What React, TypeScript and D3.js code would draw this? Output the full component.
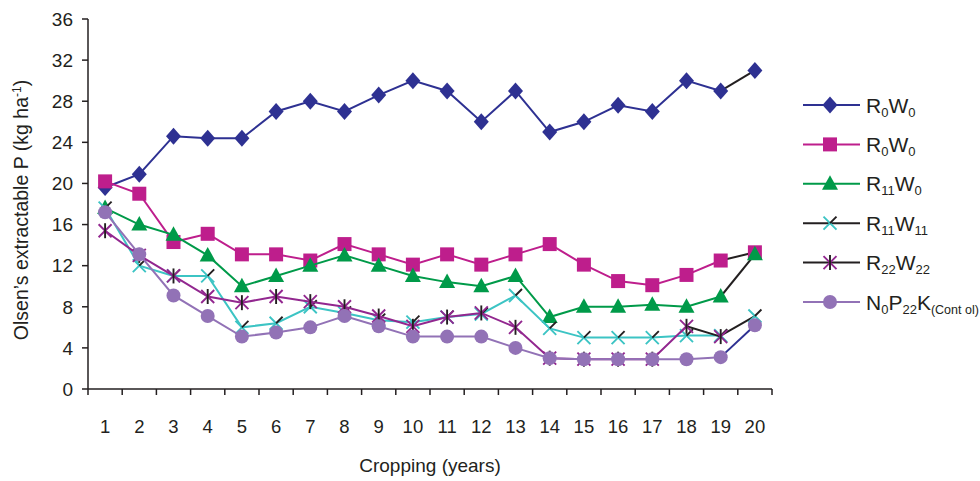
import React from "react";
import { scaleBand, scaleLinear, line, range } from "d3";

const years = range(1, 21).map(String);
const yTicks = [0, 4, 8, 12, 16, 20, 24, 28, 32, 36];

const r0w0a = [19.6, 20.9, 24.6, 24.4, 24.4, 27.0, 28.0, 27.0, 28.6, 30.0, 29.0, 26.0, 29.0, 25.0, 26.0, 27.6, 27.0, 30.0, 29.0, 31.0];
const r0w0b = [20.2, 19.0, 14.3, 15.1, 13.1, 13.1, 12.5, 14.1, 13.1, 12.1, 13.1, 12.1, 13.1, 14.1, 12.1, 10.5, 10.1, 11.1, 12.5, 13.3];
const r11w0 = [17.6, 16.0, 15.0, 13.0, 10.0, 11.0, 12.0, 13.0, 12.0, 11.0, 10.4, 10.0, 11.0, 7.0, 8.0, 8.0, 8.2, 8.0, 9.0, 13.1];
const r11w11 = [17.6, 12.0, 11.0, 11.0, 6.0, 6.4, 8.0, 7.4, 6.7, 6.5, 7.0, 7.3, 9.1, 5.9, 5.0, 5.0, 5.0, 5.2, 5.2, 7.1];
const r22w22 = [15.4, 13.0, 11.0, 9.0, 8.4, 9.0, 8.5, 8.0, 7.1, 6.1, 7.0, 7.4, 6.0, 3.0, 2.9, 2.9, 2.9, 6.1, 5.1, null];
const n0p22k = [17.2, 13.1, 9.1, 7.1, 5.1, 5.5, 6.0, 7.1, 6.1, 5.1, 5.1, 5.1, 4.0, 3.0, 2.9, 2.9, 2.9, 2.9, 3.1, 6.2];

const NAVY = "#2E3192";
const PINK = "#BE1E8C";
const GREEN = "#009A49";
const CYAN = "#3CC4C4";
const PURPLE = "#92278F";
const LAVENDER = "#9272B6";
const INK = "#231F20";

type Series = {
  values: (number | null)[];
  color: string;
  legendColor: string;
  marker: string;
  tailFrom: number; // index where the last segment(s) change colour
  tailColor: string;
  label: [string, string, string, string];
  extra?: string;
};

const series: Series[] = [
  { values: r0w0a, color: NAVY, legendColor: NAVY, marker: "diamond", tailFrom: 18, tailColor: INK, label: ["R", "0", "W", "0"] },
  { values: r0w0b, color: PINK, legendColor: PINK, marker: "square", tailFrom: 18, tailColor: INK, label: ["R", "0", "W", "0"] },
  { values: r11w0, color: GREEN, legendColor: GREEN, marker: "triangle", tailFrom: 18, tailColor: INK, label: ["R", "11", "W", "0"] },
  { values: r11w11, color: CYAN, legendColor: INK, marker: "x", tailFrom: 18, tailColor: INK, label: ["R", "11", "W", "11"] },
  { values: r22w22, color: PURPLE, legendColor: INK, marker: "star", tailFrom: 17, tailColor: INK, label: ["R", "22", "W", "22"] },
  { values: n0p22k, color: LAVENDER, legendColor: LAVENDER, marker: "circle", tailFrom: 18, tailColor: NAVY, label: ["N", "0", "P", "22"], extra: "K" },
];

const Marker = ({ type, x, y, color }: { type: string; x: number; y: number; color: string }) => {
  const s = 6.5;
  if (type === "diamond")
    return <path d={`M${x},${y - 8.5}L${x + 7.5},${y}L${x},${y + 8.5}L${x - 7.5},${y}Z`} fill={color} />;
  if (type === "square") return <rect x={x - 7} y={y - 7} width={14} height={14} fill={color} />;
  if (type === "triangle")
    return <path d={`M${x},${y - 8.5}L${x + 8},${y + 6}L${x - 8},${y + 6}Z`} fill={color} />;
  if (type === "circle") return <circle cx={x} cy={y} r={7} fill={color} />;
  if (type === "x")
    return (
      <g strokeWidth={1.9}>
        <path d={`M${x - s},${y - s}L${x + s},${y + s}M${x - s},${y + s}L${x},${y}`} stroke={color} />
        <path d={`M${x},${y}L${x + s},${y - s}`} stroke={INK} />
      </g>
    );
  if (type === "star")
    return (
      <g strokeWidth={1.9}>
        <path d={`M${x - s},${y - s}L${x + s},${y + s}M${x - s},${y + s}L${x + s},${y - s}`} stroke={color} />
        <path d={`M${x},${y - s - 1}L${x},${y + s + 1}`} stroke={INK} />
      </g>
    );
  return null;
};

const App = () => {
  const width = 980;
  const height = 481;
  const x = scaleBand().domain(years).range([88, 772]).padding(0);
  const y = scaleLinear().domain([0, 36]).range([389, 19]);
  const cx = (i: number) => (x(years[i]) as number) + x.bandwidth() / 2;

  const path = line<number | null>()
    .defined((d) => d != null)
    .x((_, i) => cx(i))
    .y((d) => y(d as number));

  const font = "Arial, 'Liberation Sans', sans-serif";
  const legendY = (i: number) => 105 + i * 39.4;

  return (
    <svg width={width} height={height} style={{ position: "absolute", left: 0, top: 0, background: "#fff" }} fontFamily={font}>
      {/* axes */}
      <line x1={88} x2={88} y1={y(36)} y2={y(0)} stroke={INK} strokeWidth={1.5} />
      <line x1={88} x2={772} y1={y(0)} y2={y(0)} stroke={INK} strokeWidth={1.5} />
      {yTicks.map((t) => (
        <g key={t}>
          <line x1={82} x2={88} y1={y(t)} y2={y(t)} stroke={INK} strokeWidth={1.5} />
          <text x={73} y={y(t) + 6.8} textAnchor="end" fontSize={19} fill={INK}>
            {t}
          </text>
        </g>
      ))}
      {range(0, 21).map((k) => (
        <line key={k} x1={88 + k * x.bandwidth()} x2={88 + k * x.bandwidth()} y1={y(0)} y2={y(0) + 6} stroke={INK} strokeWidth={1.5} />
      ))}
      {years.map((yr, i) => (
        <text key={yr} x={cx(i)} y={433} textAnchor="middle" fontSize={18.5} fill={INK}>
          {yr}
        </text>
      ))}
      <text x={430} y={472} textAnchor="middle" fontSize={19} fill={INK}>
        Cropping (years)
      </text>
      <text transform="translate(28,210) rotate(-90)" textAnchor="middle" fontSize={19.5} fill={INK}>
        Olsen’s extractable P (kg ha
        <tspan fontSize={12} dy={-7}>-1</tspan>
        <tspan dy={7}>)</tspan>
      </text>

      {/* series */}
      {series.map((s, si) => {
        const main = s.values.map((v, i) => (i <= s.tailFrom ? v : null));
        const tail = s.values.map((v, i) => (i >= s.tailFrom ? v : null));
        return (
          <g key={si}>
            <path d={path(main) || ""} fill="none" stroke={s.color} strokeWidth={2} />
            <path d={path(tail) || ""} fill="none" stroke={s.tailColor} strokeWidth={2} />
            {s.values.map((v, i) => (v == null ? null : <Marker key={i} type={s.marker} x={cx(i)} y={y(v)} color={s.color} />))}
          </g>
        );
      })}

      {/* legend */}
      {series.map((s, i) => {
        const ly = legendY(i);
        return (
          <g key={i}>
            <line x1={803} x2={860} y1={ly} y2={ly} stroke={s.legendColor} strokeWidth={2} />
            <Marker type={s.marker} x={830} y={ly} color={s.color} />
            <text x={866} y={ly + 7.5} fontSize={21} fill={INK}>
              {s.label[0]}
              <tspan fontSize={13} dy={4}>{s.label[1]}</tspan>
              <tspan dy={-4}>{s.label[2]}</tspan>
              <tspan fontSize={13} dy={4}>{s.label[3]}</tspan>
              {s.extra ? (
                <>
                  <tspan dy={-4}>{s.extra}</tspan>
                  <tspan fontSize={12.5} dy={4}>(Cont ol)</tspan>
                </>
              ) : null}
            </text>
          </g>
        );
      })}
    </svg>
  );
};

export default App;
